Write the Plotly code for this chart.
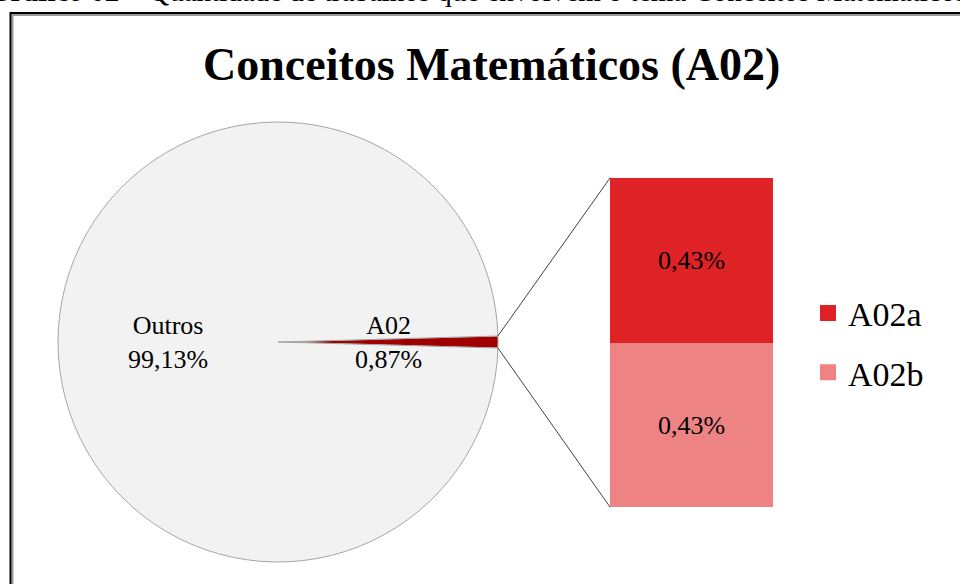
import plotly.graph_objects as go
import math

W, H = 960, 584

# ---- data ----
pie_labels = ["A02", "Outros"]
pie_values = [0.87, 99.13]
bar_labels = ["A02b", "A02a"]       # bottom to top
bar_values = [0.434, 0.434]
legend_order = ["A02a", "A02b"]
title_text = "Conceitos Matemáticos (A02)"
caption_bold = "Gráfico 02 –"
caption_rest = " Quantidade de trabalhos que envolvem o tema Conceitos Matemáticos"

pie_colors = ["#A00000", "#F2F2F2"]
bar_colors = {"A02b": "#EE8383", "A02a": "#DF2226"}
FONT = "Liberation Serif"

def fmt(v):
    return f"{v:.2f}".replace(".", ",") + "%"

# ---- geometry (pixels) ----
pie_cx, pie_cy, pie_r = 278, 342, 220
bar_x0, bar_x1, bar_y0, bar_y1 = 610, 773, 178, 507

def px(x):
    return x / W

def py(y):
    return 1 - y / H

total = sum(pie_values)
frac_a02 = pie_values[0] / total
half_deg = 360 * frac_a02 / 2
rotation = 90 - half_deg

fig = go.Figure()

fig.add_trace(go.Pie(
    labels=pie_labels, values=pie_values, sort=False, direction="clockwise",
    rotation=rotation,
    marker=dict(colors=pie_colors, line=dict(color="#A6A6A6", width=1)),
    textinfo="none", hoverinfo="skip", showlegend=False,
    domain=dict(x=[px(pie_cx - pie_r), px(pie_cx + pie_r)],
                y=[py(pie_cy + pie_r), py(pie_cy - pie_r)]),
))

for lab, val in zip(bar_labels, bar_values):
    fig.add_trace(go.Bar(
        x=["A02"], y=[val], name=lab, width=1,
        marker=dict(color=bar_colors[lab], line=dict(width=0)),
        text=[fmt(val)], textposition="inside", insidetextanchor="middle",
        textangle=0, textfont=dict(family=FONT, size=26, color="black"),
        showlegend=False, hoverinfo="skip",
    ))

# legend entries
for lab in legend_order:
    fig.add_trace(go.Scatter(
        x=[None], y=[None], mode="markers", name=lab, legendgroup=lab,
        marker=dict(symbol="square", size=20, color=bar_colors[lab]),
    ))

bar_total = sum(bar_values)
fig.update_layout(
    width=W, height=H, margin=dict(l=0, r=0, t=0, b=0),
    paper_bgcolor="white", plot_bgcolor="white",
    barmode="stack", bargap=0,
    xaxis=dict(domain=[px(bar_x0), px(bar_x1)], range=[-0.5, 0.5], visible=False, fixedrange=True),
    yaxis=dict(domain=[py(bar_y1), py(bar_y0)], range=[0, bar_total], visible=False, fixedrange=True),
    showlegend=True,
    legend=dict(x=px(808), y=py(343), xanchor="left", yanchor="middle",
                traceorder="grouped", tracegroupgap=12,
                font=dict(family=FONT, size=34, color="black"),
                itemwidth=30, bgcolor="rgba(0,0,0,0)"),
    font=dict(family=FONT),
)

# pie labels at half radius along slice mid-angles
mid_angles = [0.0, 180.0]  # A02 centered at 3 o'clock, Outros opposite
for lab, val, ang in zip(pie_labels, pie_values, mid_angles):
    ax = pie_cx + 0.5 * pie_r * math.cos(math.radians(ang))
    ay = pie_cy
    fig.add_annotation(x=px(ax), y=py(ay), xref="paper", yref="paper",
                       text=f"{lab}<br>{fmt(val)}", showarrow=False,
                       xanchor="center", yanchor="middle",
                       font=dict(family=FONT, size=26, color="black"))

# title
fig.add_annotation(x=px(491), y=py(65), xref="paper", yref="paper",
                   text=f"<b>{title_text}</b>", showarrow=False,
                   xanchor="center", yanchor="middle",
                   font=dict(family=FONT, size=46, color="black"))

# clipped caption at top
fig.add_annotation(x=0, y=1, xref="paper", yref="paper",
                   text=f"<b>{caption_bold}</b>{caption_rest}", showarrow=False,
                   xanchor="left", yanchor="middle", yshift=9, xshift=-14,
                   font=dict(family=FONT, size=29, color="black"))

# connector lines
t = math.radians(half_deg)
ex = pie_cx + pie_r * math.cos(t)
shapes = [
    dict(type="line", xref="paper", yref="paper",
         x0=px(ex), y0=py(pie_cy - pie_r * math.sin(t)), x1=px(bar_x0), y1=py(bar_y0),
         line=dict(color="#404040", width=1)),
    dict(type="line", xref="paper", yref="paper",
         x0=px(ex), y0=py(pie_cy + pie_r * math.sin(t)), x1=px(bar_x0), y1=py(bar_y1),
         line=dict(color="#404040", width=1)),
    # frame with shadow
    dict(type="rect", xref="paper", yref="paper",
         x0=px(12.5), y0=py(600), x1=px(980), y1=py(15),
         line=dict(color="#9A9A9A", width=2)),
    dict(type="rect", xref="paper", yref="paper",
         x0=px(10.5), y0=py(600), x1=px(980), y1=py(13),
         line=dict(color="black", width=2)),
]
fig.update_layout(shapes=shapes)

fig.write_html("out.html")
